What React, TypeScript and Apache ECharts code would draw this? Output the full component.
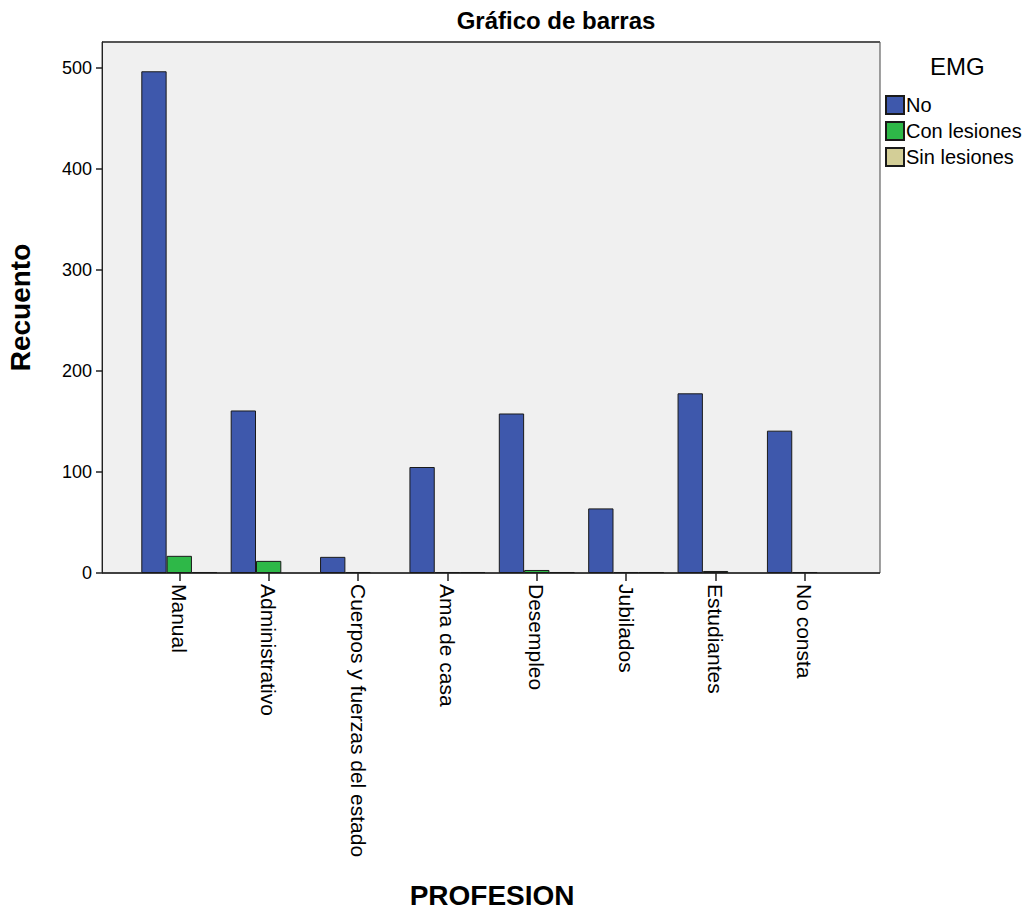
import React, { useEffect, useRef } from "react";
import * as echarts from "echarts";

const categories = [
  "Manual",
  "Administrativo",
  "Cuerpos y fuerzas del estado",
  "Ama de casa",
  "Desempleo",
  "Jubilados",
  "Estudiantes",
  "No consta",
];
const seriesNames = ["No", "Con lesiones", "Sin lesiones"];
const noValues = [497, 161, 16, 105, 158, 64, 178, 141];
const conLesionesValues = [17, 12, 1, 1, 3, 1, 2, 1];
const sinLesionesValues = [1, 0, 0, 1, 1, 1, 0, 0];
const yTicks = [0, 100, 200, 300, 400, 500];

const colors = ["#3E58AC", "#2EB848", "#D3CE97"];
const FONT = "Liberation Sans, Arial, sans-serif";

export default function App() {
  const ref = useRef<HTMLDivElement>(null);
  useEffect(() => {
    if (!ref.current) return;
    const chart = echarts.init(ref.current, undefined, { renderer: "svg" });
    const plotLeft = 102;
    const plotRight = 880;
    const plotTop = 42;
    const plotBottom = 573;
    const gridLeft = 134.6;
    const gridWidth = 715;
    const yMax = 526;
    const all = [noValues, conLesionesValues, sinLesionesValues];
    chart.setOption({
      animation: false,
      textStyle: { fontFamily: FONT },
      title: {
        text: "Gráfico de barras",
        left: 551,
        top: 3,
        textAlign: "center",
        textStyle: { fontSize: 24, fontWeight: "bold", color: "#000", fontFamily: FONT },
      },
      legend: {
        orient: "vertical",
        left: 885,
        top: 95,
        padding: 0,
        itemWidth: 18,
        itemHeight: 18,
        itemGap: 6,
        icon: "rect",
        textStyle: { fontSize: 20, color: "#000", fontFamily: FONT, padding: [0, 0, 0, -3] },
        data: seriesNames,
      },
      graphic: [
        {
          type: "rect",
          z: -10,
          shape: { x: plotLeft, y: plotTop, width: plotRight - plotLeft, height: plotBottom - plotTop },
          style: { fill: "#F0F0F0", stroke: "#444", lineWidth: 1 },
        },
        {
          type: "line",
          z: -9,
          shape: { x1: plotLeft, y1: plotTop, x2: plotRight, y2: plotTop },
          style: { stroke: "#555", lineWidth: 2 },
        },
        {
          type: "line",
          z: -8,
          shape: { x1: plotLeft, y1: plotBottom, x2: plotRight, y2: plotBottom },
          style: { stroke: "#222", lineWidth: 1.5 },
        },
        {
          type: "text",
          left: 930,
          top: 54,
          style: { text: "EMG", fontSize: 24, fill: "#000", fontFamily: FONT },
        },
      ],
      grid: {
        left: gridLeft,
        top: plotTop,
        width: gridWidth,
        height: plotBottom - plotTop,
        outerBoundsMode: "none",
        containLabel: false,
      },
      xAxis: {
        type: "category",
        data: categories,
        name: "PROFESION",
        nameLocation: "middle",
        nameGap: 308,
        nameTextStyle: { fontSize: 28, fontWeight: "bold", color: "#000", fontFamily: FONT },
        axisLine: { show: false },
        axisTick: { show: true, alignWithLabel: true, length: 8, lineStyle: { color: "#222", width: 1.5 } },
        axisLabel: { rotate: -90, margin: 11, fontSize: 21, color: "#000", fontFamily: FONT },
      },
      yAxis: {
        type: "value",
        min: 0,
        max: yMax,
        interval: 100,
        offset: gridLeft - plotLeft,
        name: "Recuento",
        nameLocation: "middle",
        nameGap: 68,
        nameTextStyle: { fontSize: 28, fontWeight: "bold", color: "#000", fontFamily: FONT },
        axisLine: { show: true, lineStyle: { color: "#222", width: 1 } },
        axisTick: { show: true, length: 6, lineStyle: { color: "#222", width: 1.5 } },
        axisLabel: {
          fontSize: 18,
          color: "#000",
          margin: 10,
          fontFamily: FONT,
          showMaxLabel: false,
          formatter: (v: number) => (yTicks.includes(v) ? String(v) : ""),
        },
        splitLine: { show: false },
      },
      series: seriesNames.map((name, i) => ({
        name,
        type: "bar",
        barGap: "0%",
        barCategoryGap: "15%",
        data: all[i].map((v) => (v === 0 ? null : v)),
        itemStyle: { color: colors[i], borderColor: "#1a1a1a", borderWidth: 1 },
      })),
    });
    return () => chart.dispose();
  }, []);
  return (
    <div
      ref={ref}
      style={{ position: "fixed", left: 0, top: 0, width: 1028, height: 911, background: "#fff" }}
    />
  );
}
